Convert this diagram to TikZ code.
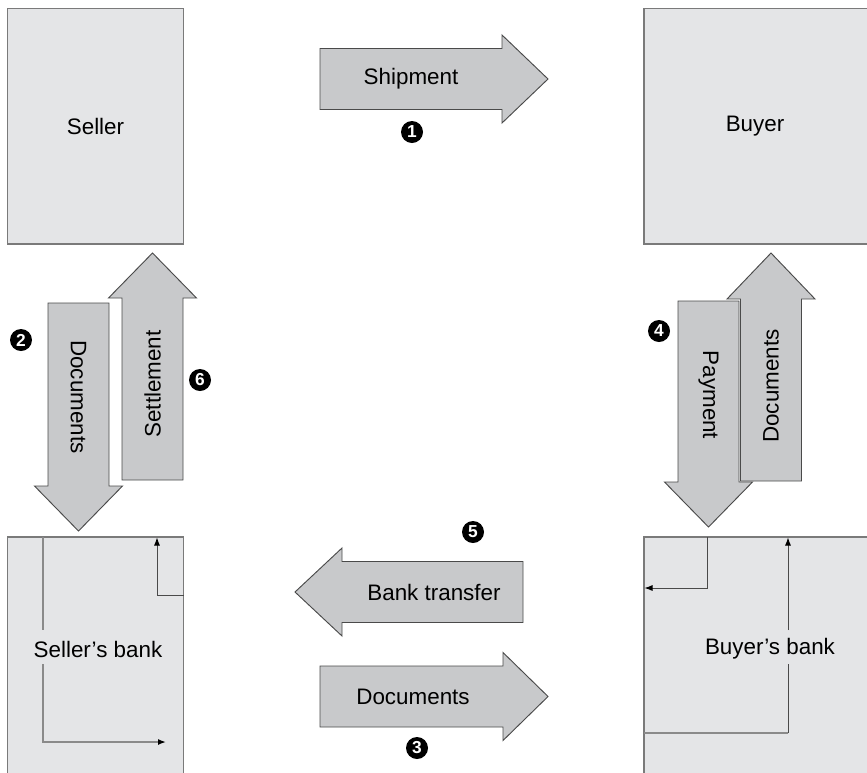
\documentclass[tikz,border=0pt]{standalone}
\usepackage{fontspec}
\setmainfont{Liberation Sans}
\usetikzlibrary{arrows.meta}

\definecolor{boxfill}{HTML}{E4E5E7}
\definecolor{boxline}{HTML}{7A7A7A}
\definecolor{arrfill}{HTML}{C8C9CB}
\definecolor{arrline}{HTML}{4A4A4A}
\definecolor{flowgray}{HTML}{8A8A8A}

% horizontal block arrow: tail x, head-base x, tip x, centre y
\newcommand\blockH[4]{%
  \filldraw[blockarrow] (#1,#4-30.5) -- (#2,#4-30.5) -- (#2,#4-44) -- (#3,#4)
    -- (#2,#4+44) -- (#2,#4+30.5) -- (#1,#4+30.5) -- cycle;}
% vertical block arrow: tail y, head-base y, tip y, centre x
\newcommand\blockV[4]{%
  \filldraw[blockarrow] (#4-30.5,#1) -- (#4-30.5,#2) -- (#4-44,#2) -- (#4,#3)
    -- (#4+44,#2) -- (#4+30.5,#2) -- (#4+30.5,#1) -- cycle;}

\begin{document}
\begin{tikzpicture}[x=0.75pt,y=-0.75pt,
  party/.style={draw=boxline,fill=boxfill,line width=1.1pt},
  blockarrow/.style={draw=arrline,fill=arrfill,line width=0.7pt,line join=miter},
  lbl/.style={font=\fontsize{16.8}{20}\selectfont,text=black,inner sep=0pt},
  stepno/.style={circle,fill=black,text=white,inner sep=0pt,minimum size=16.5pt,
    font=\fontsize{13}{13}\selectfont\bfseries},
  tip/.style={-{Latex[length=6pt,width=4.5pt,color=black]}},
  flow/.style={line width=0.7pt,draw=arrline,tip},
  flowlight/.style={line width=1.1pt,draw=flowgray},
]
\useasboundingbox (0,0) rectangle (867,772);
\clip (0,0) rectangle (867,772);

% the four parties
\draw[party] (7.5,8.5) rectangle (183.5,244);
\draw[party] (644,8.5) rectangle (880,244);
\draw[party] (7.5,537) rectangle (183.5,790);
\draw[party] (644,537) rectangle (880,790);

\node[lbl] (seller) at (95.5,126) {Seller};
\node[lbl] (buyer) at (755,126) {Buyer};
\node[lbl] (sbank) at (98,649) {Seller’s bank};
\node[lbl] (bbank) at (770,649) {Buyer’s bank};

% internal flows in the seller's bank
\coordinate (s1) at (43,537);
\coordinate (s2) at (43,630);
\coordinate (s3) at (43,664);
\coordinate (s4) at (43,742);
\coordinate (s5) at (166,742);
\draw[flowlight] (s1) -- (s2);
\draw[flowlight,tip] (s3) -- (s4) -- (s5);
\coordinate (s6) at (183.5,595);
\coordinate (s7) at (157,595);
\coordinate (s8) at (157,537.5);
\draw[flow] (s6) -- (s7) -- (s8);

% internal flows in the buyer's bank
\coordinate (b1) at (707,537);
\coordinate (b2) at (707,588);
\coordinate (b3) at (644.5,588);
\draw[flow] (b1) -- (b2) -- (b3);
\coordinate (b4) at (644,733);
\coordinate (b5) at (788,733);
\coordinate (b6) at (788,664);
\coordinate (b7) at (788,630);
\coordinate (b8) at (788,537.5);
\draw[flowlight,line width=0.9pt] (b4) -- (b5);
\draw[line width=0.7pt,draw=arrline] (b5) -- (b6);
\draw[flow] (b7) -- (b8);

% block arrows
\blockH{320}{502}{548}{79}
\blockH{523}{342}{295}{592}
\blockH{320}{503}{548}{696.5}
\blockV{303}{486}{531}{78.5}
\blockV{480}{298}{253}{152.5}
\blockV{481}{299}{253}{771}
\blockV{301}{482}{527}{708.5}

\node[lbl] (ship) at (411,79) {Shipment};
\node[lbl] (transfer) at (434,592) {Bank transfer};
\node[lbl] (docs3) at (413,696.5) {Documents};
\node[lbl,rotate=-90] (docs2) at (78.5,397) {Documents};
\node[lbl,rotate=90] (settle) at (152.5,384) {Settlement};
\node[lbl,rotate=-90] (pay) at (708.5,395) {Payment};
\node[lbl,rotate=90] (docs4) at (771,386) {Documents};

% step numbers
\node[stepno] (n1) at (412,132) {1};
\node[stepno] (n2) at (21,340) {2};
\node[stepno] (n3) at (417,748) {3};
\node[stepno] (n4) at (659,331) {4};
\node[stepno] (n5) at (473,532) {5};
\node[stepno] (n6) at (200,380) {6};
\end{tikzpicture}
\end{document}
